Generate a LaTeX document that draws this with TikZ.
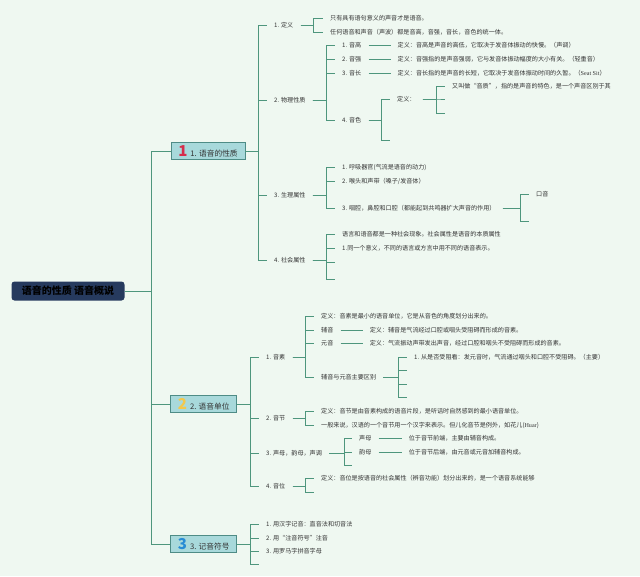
\documentclass[tikz,border=0pt]{standalone}
\usepackage{fontspec}
\setmainfont{Noto Sans CJK SC}
\newfontfamily\latinserif{Liberation Serif}
\usetikzlibrary{positioning}

\definecolor{bggreen}{RGB}{239,248,241}
\definecolor{linegreen}{RGB}{78,150,125}
\definecolor{rootblue}{RGB}{38,58,94}
\definecolor{topicfill}{RGB}{168,217,219}
\definecolor{topicedge}{RGB}{78,140,134}
\definecolor{txt}{RGB}{51,51,51}
\definecolor{numred}{RGB}{214,45,75}
\definecolor{numyellow}{RGB}{242,200,76}
\definecolor{numblue}{RGB}{40,140,212}

\begin{document}
\begin{tikzpicture}[x=1pt,y=-1pt,
  root/.style={fill=rootblue,rounded corners=3pt,minimum width=113pt,minimum height=19pt,
               font=\fontsize{10}{12}\selectfont\bfseries,text=black,inner sep=2pt},
  topic/.style={draw=topicedge,fill=topicfill,minimum height=16.5pt,line width=0.6pt,
                font=\fontsize{7.7}{9}\selectfont,text=txt,inner sep=2pt},
  lbl/.style={anchor=west,inner xsep=7pt,inner ysep=1pt,text=txt,
              font=\fontsize{6.1}{7}\selectfont,text height=5pt,text depth=1pt},
  br/.style={draw=linegreen,line width=0.8pt}]
\fill[bggreen] (0,0) rectangle (640,576);

% centre and main topics
\node[root] (root) at (68,291) {语音的性质 语音概说};
\node[topic,minimum width=74pt] (t1) at (208,151)
  {{\fontsize{15}{15}\selectfont\bfseries\color{numred}1}\, 1. 语音的性质};
\node[topic,minimum width=66pt] (t2) at (203.7,404)
  {{\fontsize{15}{15}\selectfont\bfseries\color{numyellow}2}\, 2. 语音单位};
\node[topic,minimum width=66pt] (t3) at (203.7,544)
  {{\fontsize{15}{15}\selectfont\bfseries\color{numblue}3}\, 3. 记音符号};
\foreach \t in {t1,t2,t3}
  \draw[br] (root.east) -- ++(27,0) |- (\t.west);

% 1. 语音的性质
\node[lbl] (d1) at (267,25) {1. 定义};
\node[lbl] (d2) at (267,100) {2. 物理性质};
\node[lbl] (d3) at (267,195) {3. 生理属性};
\node[lbl] (d4) at (267,260) {4. 社会属性};
\foreach \d in {d1,d2,d3,d4}
  \draw[br] (t1.east) -- ++(13,0) |- (\d.west);

\node[lbl] (d1a) at (323,18) {只有具有语句意义的声音才是语音。};
\node[lbl] (d1b) at (323,32) {任何语音和声音（声波）都是音高，音强，音长，音色的统一体。};
\foreach \c in {d1a,d1b}
  \draw[br] (d1.east) -- ++(13,0) |- (\c.west);

\node[lbl] (p1) at (335,45) {1. 音高};
\node[lbl] (p2) at (335,59) {2. 音强};
\node[lbl] (p3) at (335,73) {3. 音长};
\node[lbl] (p4) at (335,120) {4. 音色};
\foreach \c in {p1,p2,p3,p4}
  \draw[br] (d2.east) -- ++(14,0) |- (\c.west);
\node[lbl,right=22pt of p1] (q1) {定义：音高是声音的高低，它取决于发音体振动的快慢。（声调）};
\node[lbl,right=22pt of p2] (q2) {定义：音强指的是声音强弱，它与发音体振动幅度的大小有关。（轻重音）};
\node[lbl,right=22pt of p3] (q3) {定义：音长指的是声音的长短，它取决于发音体振动时间的久暂。（{\latinserif Seat Sit}）};
\draw[br] (p1) -- (q1); \draw[br] (p2) -- (q2); \draw[br] (p3) -- (q3);

\node[lbl] (q4) at (390,99) {定义：};
\coordinate (q4e) at (390,140);
\foreach \c in {q4,q4e}
  \draw[br] (p4.east) -- ++(13,0) |- (\c);
\node[lbl] (r1) at (445,86) {又叫做“音质”，指的是声音的特色，是一个声音区别于其};
\coordinate (r2) at (445,99);
\coordinate (r3) at (445,113);
\foreach \c in {r1.west,r2,r3}
  \draw[br] (q4.east) -- ++(14,0) |- (\c);

\node[lbl] (s1) at (335,167) {1. 呼吸器官(气流是语音的动力)};
\node[lbl] (s2) at (335,181) {2. 喉头和声带（嗓子/发音体）};
\node[lbl] (s3) at (335,208) {3. 咽腔，鼻腔和口腔（都能起到共鸣器扩大声音的作用）};
\foreach \c in {s1,s2,s3}
  \draw[br] (d3.east) -- ++(14,0) |- (\c.west);
\node[lbl] (s3a) at (529,194) {口音};
\coordinate (s3b) at (529,221);
\foreach \c in {s3a.west,s3b}
  \draw[br] (s3.east) -- ++(18,0) |- (\c);

\node[lbl] (g1) at (335,234) {语言和语音都是一种社会现象。社会属性是语音的本质属性};
\node[lbl] (g2) at (335,248) {1.同一个意义，不同的语言或方言中用不同的语音表示。};
\coordinate (g3) at (335,262);
\coordinate (g4) at (335,279);
\foreach \c in {g1.west,g2.west,g3,g4}
  \draw[br] (d4.east) -- ++(14,0) |- (\c);

% 2. 语音单位
\node[lbl] (u1) at (259,357) {1. 音素};
\node[lbl] (u2) at (259,418) {2. 音节};
\node[lbl] (u3) at (259,453) {3. 声母，韵母，声调};
\node[lbl] (u4) at (259,486) {4. 音位};
\foreach \u in {u1,u2,u3,u4}
  \draw[br] (t2.east) -- ++(13.3,0) |- (\u.west);

\node[lbl] (v1) at (314,316) {定义：音素是最小的语音单位，它是从音色的角度划分出来的。};
\node[lbl] (v2) at (314,330) {辅音};
\node[lbl] (v3) at (314,343) {元音};
\node[lbl] (v4) at (314,377) {辅音与元音主要区别};
\foreach \c in {v1,v2,v3,v4}
  \draw[br] (u1.east) -- ++(13,0) |- (\c.west);
\node[lbl,right=22pt of v2] (w2) {定义：辅音是气流经过口腔或咽头受阻碍而形成的音素。};
\node[lbl,right=22pt of v3] (w3) {定义：气流振动声带发出声音，经过口腔和咽头不受阻碍而形成的音素。};
\draw[br] (v2) -- (w2); \draw[br] (v3) -- (w3);
\node[lbl] (x1) at (407,357) {1. 从是否受阻看：发元音时，气流通过咽头和口腔不受阻碍。（主要）};
\coordinate (x2) at (407,370);
\coordinate (x3) at (407,384);
\coordinate (x4) at (407,397);
\foreach \c in {x1.west,x2,x3,x4}
  \draw[br] (v4.east) -- ++(15,0) |- (\c);

\node[lbl] (y1) at (314,411) {定义：音节是由音素构成的语音片段，是听话时自然感到的最小语音单位。};
\node[lbl] (y2) at (314,425) {一般来说，汉语的一个音节用一个汉字来表示。但儿化音节是例外，如花儿({\latinserif Huar})};
\foreach \c in {y1,y2}
  \draw[br] (u2.east) -- ++(13,0) |- (\c.west);

\node[lbl] (z1) at (352,438) {声母};
\node[lbl] (z2) at (352,452) {韵母};
\coordinate (z3) at (352,465);
\foreach \c in {z1.west,z2.west,z3}
  \draw[br] (u3.east) -- ++(15,0) |- (\c);
\node[lbl,right=23pt of z1] (z1a) {位于音节前端，主要由辅音构成。};
\node[lbl,right=23pt of z2] (z2a) {位于音节后端，由元音或元音加辅音构成。};
\draw[br] (z1) -- (z1a); \draw[br] (z2) -- (z2a);

\node[lbl] (k1) at (314,478) {定义：音位是按语音的社会属性（辨音功能）划分出来的，是一个语音系统能够};
\coordinate (k2) at (314,492);
\foreach \c in {k1.west,k2}
  \draw[br] (u4.east) -- ++(13,0) |- (\c);

% 3. 记音符号
\node[lbl] (m1) at (259,524) {1. 用汉字记音：直音法和切音法};
\node[lbl] (m2) at (259,538) {2. 用“注音符号”注音};
\node[lbl] (m3) at (259,551) {3. 用罗马字拼音字母};
\coordinate (m4) at (259,564);
\foreach \c in {m1.west,m2.west,m3.west,m4}
  \draw[br] (t3.east) -- ++(13.3,0) |- (\c);
\end{tikzpicture}
\end{document}
